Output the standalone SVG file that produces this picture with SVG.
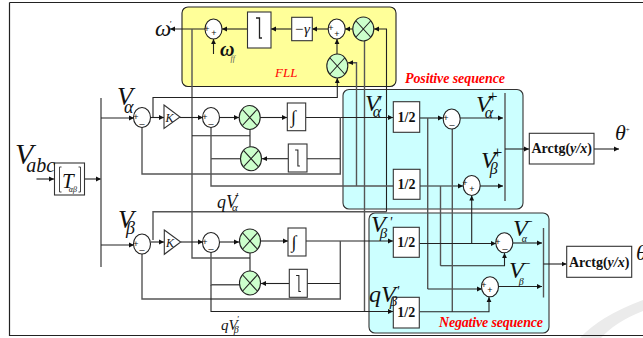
<svg xmlns="http://www.w3.org/2000/svg" width="643" height="338" viewBox="0 0 643 338">
<style>
.l{fill:none;stroke:#222;stroke-width:1.1}
.g{fill:none;stroke:#555;stroke-width:1.4}
.b{fill:#fff;stroke:#333;stroke-width:1.1}
.s{fill:#fff;stroke:#222;stroke-width:1.1}
.m{fill:#ccffcc;stroke:#222;stroke-width:1.1}
.x{fill:none;stroke:#222;stroke-width:1.1}
.t{font-family:"Liberation Serif",serif;fill:#111}
.i{font-style:italic}
.h{font-family:"Liberation Serif",serif;font-weight:bold;fill:#111;text-anchor:middle}
.r{font-family:"Liberation Serif",serif;font-weight:bold;font-style:italic;fill:#ff0000}
.o{font-family:"Liberation Sans",sans-serif;fill:#111;font-size:9px;text-anchor:middle}
</style>
<defs>
<marker id="a" markerUnits="userSpaceOnUse" markerWidth="6" markerHeight="6" refX="5" refY="3" orient="auto"><path d="M0 .6L5 3L0 5.4z" fill="#111"/></marker>
<path id="lag" d="M-3 -10H.5V10H3" fill="none" stroke="#222" stroke-width="1.3"/>
</defs>
<rect width="643" height="338" fill="#fff"/>
<path d="M580 338Q600 316 643 300V311Q615 322 601 338Z" fill="#ebebeb"/>
<path d="M9.500 2.500H643M9.500 2.500V335.500H643" fill="none" stroke="#222" stroke-width="1.2"/>
<g id="fll"><rect x="182" y="7" width="214" height="79.500" rx="6" fill="#ffff99" stroke="#222" stroke-width="1.1"/><text class="t i" x="275" y="77" font-size="13" style="fill:#ff0000">FLL</text></g>
<g id="positive"><rect x="343" y="89.500" width="180" height="119.500" rx="6" fill="#ccffff" stroke="#333" stroke-width="1.1"/><text class="r" x="405" y="83" font-size="14" textLength="100">Positive sequence</text></g>
<g id="negative"><rect x="369" y="213" width="180" height="120" rx="6" fill="#ccffff" stroke="#333" stroke-width="1.1"/><text class="r" x="439" y="327" font-size="14" textLength="104">Negative sequence</text></g>
<g id="connectors">
<path class="l" marker-end="url(#a)" d="M247.500 29H222"/>
<path class="l" marker-end="url(#a)" d="M205 29H170"/>
<path class="l" marker-end="url(#a)" d="M213.500 54V39"/>
<path class="l" marker-end="url(#a)" d="M291.500 29H271"/>
<path class="l" marker-end="url(#a)" d="M328 29H312"/>
<path class="l" marker-end="url(#a)" d="M353 29H345"/>
<path class="l" marker-end="url(#a)" d="M337 54V39"/>
<path class="g" d="M192 29V258H250"/>
<path class="l" d="M192 135.700H250"/>
<path class="l" marker-end="url(#a)" d="M386.500 211.700V29H374"/>
<path class="g" d="M153 240V211.700H386.500"/>
<path class="l" marker-end="url(#a)" d="M153 117V97.500H337.300V78"/>
<path class="g" marker-end="url(#a)" d="M356.500 186V62.700H348"/>
<path class="g" d="M211 127V186H393"/>
<path class="g" d="M364.500 41V311.500"/>
<path class="l" marker-end="url(#a)" d="M36.500 179H54"/>
<path class="l" marker-end="url(#a)" d="M85 179H101"/>
<path class="g" d="M101 98V267"/>
<path class="l" marker-end="url(#a)" d="M101 118H134"/>
<path class="l" marker-end="url(#a)" d="M151 117.500H164"/>
<path class="l" marker-end="url(#a)" d="M180 117.500H203"/>
<path class="l" marker-end="url(#a)" d="M220 117.500H239"/>
<path class="l" marker-end="url(#a)" d="M260 117.500H287"/>
<path class="l" marker-end="url(#a)" d="M306 117.500H393"/>
<path class="g" d="M142 127V174H340.300V117.500"/>
<path class="l" d="M340 158.700H307"/>
<path class="l" marker-end="url(#a)" d="M288 158.700H262"/>
<path class="l" d="M250 129V147"/>
<path class="g" d="M211 158.700H240"/>
<path class="l" marker-end="url(#a)" d="M101 245H134"/>
<path class="l" marker-end="url(#a)" d="M151 242H164"/>
<path class="l" marker-end="url(#a)" d="M181 242H203"/>
<path class="l" marker-end="url(#a)" d="M220 242H239"/>
<path class="l" marker-end="url(#a)" d="M261 241H288"/>
<path class="l" marker-end="url(#a)" d="M306 241H393"/>
<path class="g" d="M142 254V299H340.300V241"/>
<path class="l" d="M340 283.500H307"/>
<path class="l" marker-end="url(#a)" d="M289 283.500H261"/>
<path class="l" d="M250 253V271"/>
<path class="g" d="M211 252V284.700H240"/>
<path class="l" marker-end="url(#a)" d="M211 285V311.500H393"/>
<path class="l" marker-end="url(#a)" d="M420 118H443"/>
<path class="l" marker-end="url(#a)" d="M460 118H503"/>
<path class="g" d="M505 93V201"/>
<path class="l" marker-end="url(#a)" d="M505 149H529"/>
<path class="g" marker-end="url(#a)" d="M594 149H619"/>
<path class="l" marker-end="url(#a)" d="M420 186H463"/>
<path class="l" marker-end="url(#a)" d="M480 186H503"/>
<path class="g" d="M427.700 118V289"/>
<path class="l" marker-end="url(#a)" d="M427.700 289H482"/>
<path class="g" d="M440.500 186V265.700"/>
<path class="l" marker-end="url(#a)" d="M440.500 265.700H504.500V253"/>
<path class="g" d="M452.300 129V311.700"/>
<path class="l" marker-end="url(#a)" d="M419.500 311.700H489V297"/>
<path class="l" marker-end="url(#a)" d="M471.700 243.500V195.500"/>
<path class="l" marker-end="url(#a)" d="M419.500 243.500H496"/>
<path class="l" marker-end="url(#a)" d="M513 243H542"/>
<path class="l" marker-end="url(#a)" d="M499 286.500H542"/>
<path class="g" d="M543.500 228V297.500"/>
<path class="l" marker-end="url(#a)" d="M543.500 264H566.500"/>
</g>
<g id="t-transform"><rect class="b" x="54.500" y="163" width="30" height="32"/><path d="M61.500 167H59.500V192H61.500M78.500 167H80.500V192H78.500" fill="none" stroke="#444"/><text class="t i" x="62" y="188" font-size="21">T<tspan dx="-5" dy="4" font-size="8">αβ</tspan></text></g>
<g id="sum-w"><ellipse class="s" cx="213.500" cy="29" rx="8.500" ry="10"/><text class="o" x="207" y="32">+</text><text class="o" x="214" y="36">+</text></g>
<g id="lag-fll"><rect class="b" x="247.500" y="12" width="23.500" height="36"/><use href="#lag" x="259" y="28"/></g>
<g id="gamma"><rect class="b" x="291.700" y="17.300" width="20.600" height="23.400"/><text class="t i" x="294" y="34" font-size="15">−γ</text></g>
<g id="sum-fll"><ellipse class="s" cx="336.700" cy="29" rx="8.500" ry="10"/><text class="o" x="331" y="31">+</text><text class="o" x="337" y="37">+</text></g>
<g id="mul-fll1"><ellipse class="m" cx="363.300" cy="29" rx="10.500" ry="12"/><path class="x" d="M356 21L370.600 37M370.600 21L356 37"/></g>
<g id="mul-fll2"><ellipse class="m" cx="337.300" cy="66" rx="10.500" ry="12"/><path class="x" d="M330 58L344.600 74M344.600 58L330 74"/></g>
<g id="sum-a1"><ellipse class="s" cx="142" cy="117.500" rx="8.500" ry="10"/><text class="o" x="136" y="120">+</text><text class="o" x="142" y="123">_</text></g>
<g id="gain-a"><path class="b" d="M164 105L180 117L164 128.500Z"/><text class="t i" x="165.500" y="122" font-size="12">K</text></g>
<g id="sum-a2"><ellipse class="s" cx="211" cy="117.500" rx="8.500" ry="10"/><text class="o" x="205" y="120">+</text><text class="o" x="211" y="123">_</text></g>
<g id="mul-a1"><ellipse class="m" cx="249.700" cy="117.500" rx="10.500" ry="12"/><path class="x" d="M242.400 109.500L257 125.500M257 109.500L242.400 125.500"/></g>
<g id="int-a"><rect class="b" x="287.300" y="103" width="18.400" height="27.700"/><text class="t" x="291" y="123" font-size="18">∫</text></g>
<g id="mul-a2"><ellipse class="m" cx="251" cy="158.700" rx="10.500" ry="12"/><path class="x" d="M243.700 150.700L258.300 166.700M258.300 150.700L243.700 166.700"/></g>
<g id="lag-a"><rect class="b" x="288.300" y="144" width="18.700" height="28"/><use href="#lag" transform="translate(297.500 158) scale(.8)"/></g>
<g id="sum-b1"><ellipse class="s" cx="142" cy="244" rx="8.500" ry="10"/><text class="o" x="136" y="247">+</text><text class="o" x="142" y="249">_</text></g>
<g id="gain-b"><path class="b" d="M164.300 230L180.700 242L164.300 254.300Z"/><text class="t i" x="166" y="247" font-size="12">K</text></g>
<g id="sum-b2"><ellipse class="s" cx="211" cy="242.500" rx="8.500" ry="10"/><text class="o" x="205" y="245">+</text><text class="o" x="211" y="248">_</text></g>
<g id="mul-b1"><ellipse class="m" cx="250" cy="241" rx="10.500" ry="12"/><path class="x" d="M242.700 233L257.300 249M257.300 233L242.700 249"/></g>
<g id="int-b"><rect class="b" x="288" y="228" width="18" height="28"/><text class="t" x="291.500" y="248" font-size="18">∫</text></g>
<g id="mul-b2"><ellipse class="m" cx="250" cy="283" rx="10.500" ry="12"/><path class="x" d="M242.700 275L257.300 291M257.300 275L242.700 291"/></g>
<g id="lag-b"><rect class="b" x="289.300" y="269.300" width="18" height="28"/><use href="#lag" transform="translate(298.500 283.500) scale(.8)"/></g>
<g id="half-1"><rect class="b" x="393.300" y="101.700" width="26.400" height="30.600"/><text class="h" x="406.500" y="122" font-size="14">1/2</text></g>
<g id="half-2"><rect class="b" x="393.300" y="169.300" width="26.700" height="30"/><text class="h" x="406.500" y="189" font-size="14">1/2</text></g>
<g id="half-3"><rect class="b" x="393.300" y="227.300" width="26" height="30"/><text class="h" x="406.300" y="247" font-size="14">1/2</text></g>
<g id="half-4"><rect class="b" x="393.300" y="297.300" width="26" height="30.700"/><text class="h" x="406.300" y="317" font-size="14">1/2</text></g>
<g id="sum-p1"><ellipse class="s" cx="451.700" cy="119" rx="8.500" ry="10"/><text class="o" x="446" y="121">+</text><text class="o" x="452" y="124">_</text></g>
<g id="sum-p2"><ellipse class="s" cx="471.700" cy="185.500" rx="8.500" ry="10"/><text class="o" x="465" y="186">+</text><text class="o" x="472" y="192">+</text></g>
<g id="sum-n1"><ellipse class="s" cx="504.300" cy="242.700" rx="8.500" ry="10"/><text class="o" x="498" y="245">+</text><text class="o" x="505" y="248">_</text></g>
<g id="sum-n2"><ellipse class="s" cx="490" cy="286.700" rx="8.500" ry="10"/><text class="o" x="484" y="288">+</text><text class="o" x="490" y="293">+</text></g>
<g id="arctg-p"><rect class="b" x="529.300" y="133.300" width="64.700" height="30.700"/><text class="h" x="561.700" y="153" font-size="14">Arctg(<tspan font-style="italic">y/x</tspan>)</text></g>
<g id="arctg-n"><rect class="b" x="566.700" y="246.300" width="65" height="31"/><text class="h" x="599.200" y="266.500" font-size="14">Arctg(<tspan font-style="italic">y/x</tspan>)</text></g>
<g id="labels" class="t i">
<text x="15" y="164" font-size="30">V<tspan dx="-7" dy="8" font-size="20">abc</tspan></text>
<text x="155" y="36" font-size="23">ω<tspan dx="-2" dy="-9" font-size="9">'</tspan></text>
<text x="220" y="56" font-size="20" font-weight="bold">ω<tspan dx="-4" dy="5" font-size="8" font-weight="normal" style="fill:#555">ff</tspan></text>
<text x="117" y="105" font-size="26">V<tspan dx="-9" dy="8" font-size="18">α</tspan></text>
<text x="118" y="228" font-size="26">V<tspan dx="-8" dy="6" font-size="18">β</tspan></text>
<text x="365" y="111" font-size="24">V<tspan dx="-7" dy="6" font-size="16">α</tspan><tspan dx="-3" dy="-10" font-size="14">'</tspan></text>
<text x="476" y="112" font-size="24">V<tspan dx="-6" dy="6" font-size="16">α</tspan><tspan dx="-5" dy="-16" font-size="17" font-style="normal">+</tspan></text>
<text x="481" y="168" font-size="24">V<tspan dx="-6" dy="6" font-size="16">β</tspan><tspan dx="-5" dy="-16" font-size="17" font-style="normal">+</tspan></text>
<text x="371" y="232" font-size="24">V<tspan dx="-6" dy="6" font-size="15">β</tspan><tspan dx="2" dy="-11" font-size="14">'</tspan></text>
<text x="369" y="302" font-size="24">qV<tspan dx="-6" dy="4" font-size="15">β</tspan><tspan dx="-1" dy="-10" font-size="14">'</tspan></text>
<text x="513" y="236" font-size="24">V<tspan dx="-6" dy="6" font-size="10">α</tspan><tspan dx="-2" dy="-16" font-size="14" font-style="normal">−</tspan></text>
<text x="509" y="278" font-size="24">V<tspan dx="-5" dy="7" font-size="10">β</tspan><tspan dx="-1" dy="-17" font-size="14" font-style="normal">−</tspan></text>
<text x="217" y="208" font-size="18">qV<tspan dx="-5" dy="3" font-size="11">α</tspan><tspan dx="-2" dy="-11" font-size="10">'</tspan></text>
<text x="221" y="330" font-size="15">qV<tspan dx="-4" dy="3" font-size="10">β</tspan><tspan dx="-2" dy="-11" font-size="9">'</tspan></text>
<text x="615" y="140" font-size="22">θ<tspan dx="0" dy="-8" font-size="7" font-style="normal">+</tspan></text>
<text x="636" y="260" font-size="22">θ</text>
</g>
</svg>
